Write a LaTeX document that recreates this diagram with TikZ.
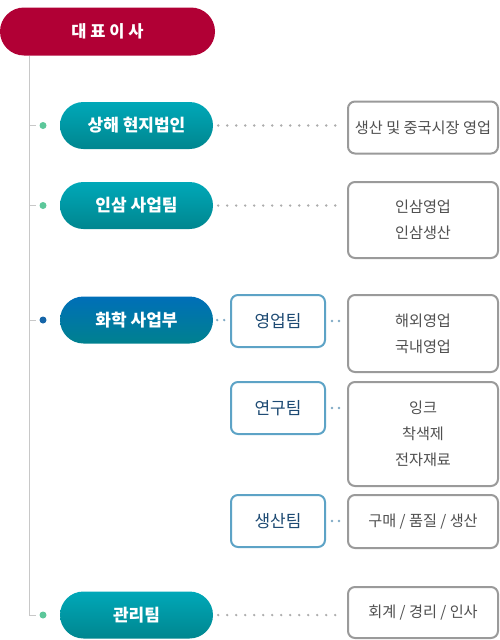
\documentclass[tikz,border=0pt]{standalone}
\usepackage{fontspec}
\setmainfont{Noto Sans CJK KR}
\usetikzlibrary{positioning}
\definecolor{Crimson}{HTML}{B10035}
\definecolor{TealTop}{HTML}{00A8B8}
\definecolor{TealBot}{HTML}{00868F}
\definecolor{BlueTop}{HTML}{006FB8}
\definecolor{BlueBot}{HTML}{00818F}
\definecolor{TeamLine}{HTML}{5DA3C6}
\definecolor{TeamText}{HTML}{1D4A73}
\definecolor{DescLine}{HTML}{9A9A9A}
\definecolor{DescText}{HTML}{505050}
\definecolor{DotGray}{HTML}{ADADAD}
\definecolor{DotBlue}{HTML}{7FA9C4}
\definecolor{MarkGreen}{HTML}{5CC79A}
\definecolor{MarkBlue}{HTML}{1565A8}
\definecolor{Trunk}{HTML}{C8C8C8}
\tikzset{
orgceo/.style={fill=Crimson, text=white, font=\bfseries\fontsize{16.5}{19}\selectfont, rounded corners=24pt, minimum width=215pt, minimum height=48pt, inner sep=0pt},
orgpill/.style={text=white, font=\bfseries\fontsize{17}{20}\selectfont, rounded corners=23.5pt, minimum width=153pt, minimum height=47pt, inner sep=0pt, top color=TealTop, bottom color=TealBot},
orgpillblue/.style={orgpill, top color=BlueTop, bottom color=BlueBot},
orgteam/.style={draw=TeamLine, line width=2pt, rounded corners=7pt, fill=white, minimum width=94pt, minimum height=52pt, inner sep=0pt, text=TeamText, font=\fontsize{17}{20}\selectfont},
orgdesc/.style={draw=DescLine, line width=2pt, rounded corners=7pt, fill=white, minimum width=150pt, inner sep=0pt, align=center, text=DescText, font=\fontsize{15.2}{26}\selectfont},
orgdots/.style={draw=DotGray, line width=2.6pt, line cap=round, dash pattern=on 0pt off 9pt},
orgdotsblue/.style={orgdots, draw=DotBlue, dash pattern=on 0pt off 7pt},
orgmark/.style={circle, fill=MarkGreen, minimum size=7pt, inner sep=0pt},
orgtrunk/.style={draw=Trunk, line width=1pt}
}

\begin{document}
\begin{tikzpicture}[x=1pt, y=-1pt]
  \useasboundingbox (0,0) rectangle (500,640);
  % top
  \node[orgceo] (ceo) at (107.5,31.5) {대 표 이 사};
  % divisions
  \node[orgpill] (shanghai) at (136.5,125.5) {상해 현지법인};
  \node[orgpill] (ginseng) at (136.5,205.5) {인삼 사업팀};
  \node[orgpillblue] (chem) at (136.5,320) {화학 사업부};
  \node[orgpill] (admin) at (136.5,615) {관리팀};
  % teams
  \node[orgteam] (sales) at (278,321) {영업팀};
  \node[orgteam] (research) at (278,408) {연구팀};
  \node[orgteam] (production) at (278,521) {생산팀};
  % descriptions
  \node[orgdesc, minimum height=52pt] (dshanghai) at (423,127.5) {생산 및 중국시장 영업};
  \node[orgdesc, minimum height=76pt] (dginseng) at (423,220) {인삼영업\\인삼생산};
  \node[orgdesc, minimum height=77pt] (dsales) at (423,333.5) {해외영업\\국내영업};
  \node[orgdesc, minimum height=104pt] (dresearch) at (423,434) {잉크\\착색제\\전자재료};
  \node[orgdesc, minimum height=53pt] (dproduction) at (423,521.5) {구매 / 품질 / 생산};
  \node[orgdesc, minimum height=51pt] (dadmin) at (423,612.5) {회계 / 경리 / 인사};
  % trunk and markers
  \node[orgmark] (m1) at (43,125.5) {};
  \node[orgmark] (m2) at (43,205.5) {};
  \node[orgmark, fill=MarkBlue] (m3) at (43,320) {};
  \node[orgmark] (m4) at (43,615) {};
  \coordinate (trunktop) at (29,56);
  \draw[orgtrunk, shorten >=7pt] (trunktop) |- (m4.center);
  \foreach \m in {m1,m2,m3}
    \draw[orgtrunk, shorten >=7pt] (\m.center -| trunktop) -- (\m.center);
  % dotted links
  \draw[orgdots] ([xshift=5pt]shanghai.east) -- ([xshift=-8pt]shanghai.east -| dshanghai.west);
  \draw[orgdots] ([xshift=5pt]ginseng.east) -- ([xshift=-8pt]ginseng.east -| dginseng.west);
  \draw[orgdots] ([xshift=5pt]admin.east) -- ([xshift=-8pt]admin.east -| dadmin.west);
  \draw[orgdotsblue] ([xshift=4pt]chem.east) -- ([xshift=-3pt]chem.east -| sales.west);
  \draw[orgdotsblue] ([xshift=6pt]sales.east) -- ([xshift=-5pt]sales.east -| dsales.west);
  \draw[orgdotsblue] ([xshift=6pt]research.east) -- ([xshift=-5pt]research.east -| dresearch.west);
  \draw[orgdotsblue] ([xshift=6pt]production.east) -- ([xshift=-5pt]production.east -| dproduction.west);
\end{tikzpicture}
\end{document}
